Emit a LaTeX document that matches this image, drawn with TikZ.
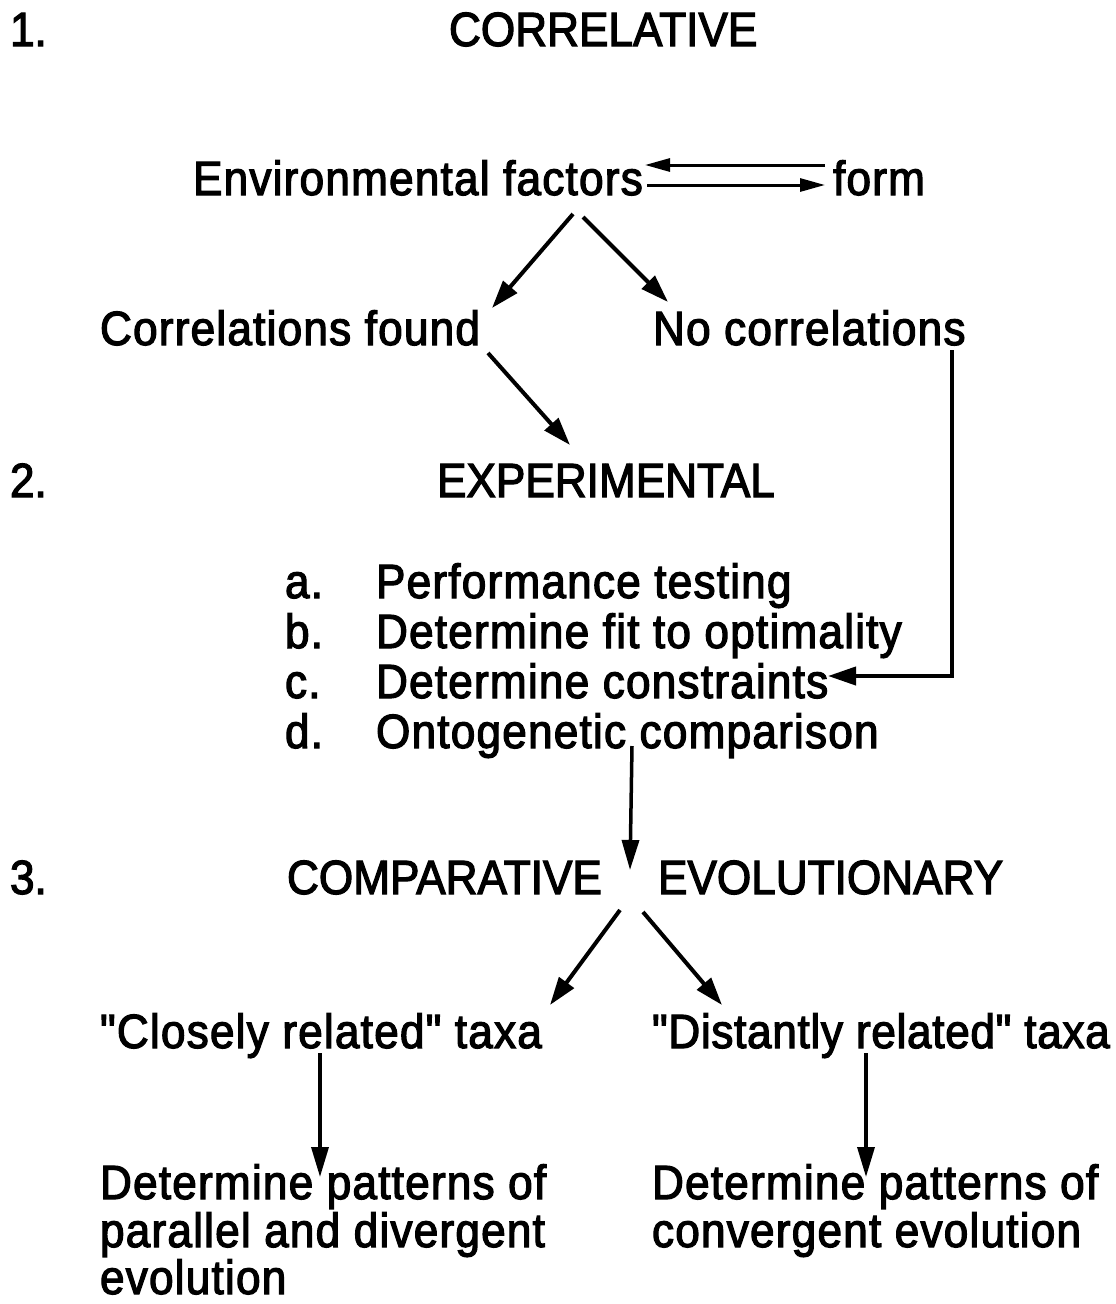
\documentclass[tikz,border=0pt]{standalone}
\usepackage{fontspec}
\setmainfont{Liberation Sans}
\newfontfamily\lcfont{Liberation Sans}[FakeBold=2.5,FakeStretch=0.92,LetterSpace=2.5]
\newfontfamily\lctight{Liberation Sans}[FakeBold=2.5,FakeStretch=0.92,LetterSpace=1.4]
\newfontfamily\ucfont{Liberation Sans}[FakeBold=2.5,FakeStretch=0.92]
\newcommand\dq{\symbol{34}}
\usetikzlibrary{arrows.meta}
\tikzset{
  txt/.style={inner sep=0pt, outer sep=0pt, anchor=base west, font=\lcfont\fontsize{48}{52}\selectfont},
  txttight/.style={txt, font=\lctight\fontsize{48}{52}\selectfont},
  caps/.style={inner sep=0pt, outer sep=0pt, anchor=base west, font=\ucfont\fontsize{48}{52}\selectfont},
  arr/.style={line width=4pt, -{Triangle[length=28pt,width=18pt]}},
  darr/.style={line width=3pt, -{Triangle[length=25pt,width=13pt]}},
  varr/.style={line width=3.5pt, -{Triangle[length=30pt,width=17pt]}}
}
\begin{document}
\begin{tikzpicture}[x=1pt,y=-1pt]
\useasboundingbox (0,0) rectangle (1116,1304);
% level 1
\node[caps] (n1) at (10,46) {1.};
\node[caps] (corrh) at (449,46) {CORRELATIVE};
\node[txt] (env) at (193,195) {Environmental factors};
\node[txt] (form) at (833,195) {form};
\node[txt] (corr) at (100,345) {Correlations found};
\node[txt] (nocorr) at (653,345) {No correlations};
% level 2
\node[caps] (n2) at (10,497) {2.};
\node[caps] (exp) at (437,497) {EXPERIMENTAL};
\node[txt] (la) at (285,598) {a.};
\node[txt] (ta) at (376,598) {Performance testing};
\node[txt] (lb) at (285,648) {b.};
\node[txt] (tb) at (376,648) {Determine fit to optimality};
\node[txt] (lcl) at (285,698) {c.};
\node[txt] (tc) at (376,698) {Determine constraints};
\node[txt] (ldl) at (285,748) {d.};
\node[txt] (td) at (376,748) {Ontogenetic comparison};
% level 3
\node[caps] (n3) at (10,894) {3.};
\node[caps] (comp) at (287,894) {COMPARATIVE};
\node[caps] (evol) at (658,894) {EVOLUTIONARY};
\node[txt] (close) at (100,1048) {\dq Closely related\dq{} taxa};
\node[txttight] (dist) at (652,1048) {\dq Distantly related\dq{} taxa};
\node[txt] (dl1) at (100,1199) {Determine patterns of};
\node[txt] (dl2) at (100,1247) {parallel and divergent};
\node[txt] (dl3) at (100,1294) {evolution};
\node[txt] (dr1) at (652,1199) {Determine patterns of};
\node[txt] (dr2) at (652,1247) {convergent evolution};
% connectors
\draw[darr] ([xshift=-8pt,yshift=30pt]form.base west) -- ([xshift=452pt,yshift=30pt]env.base west);
\draw[darr] ([xshift=454pt,yshift=10pt]env.base west) -- ([xshift=-8pt,yshift=10pt]form.base west);
\draw[arr] ([xshift=380pt,yshift=-19pt]env.base west) -- ([xshift=392pt,yshift=37pt]corr.base west);
\draw[arr] ([xshift=390pt,yshift=-22pt]env.base west) -- ([xshift=15pt,yshift=43pt]nocorr.base west);
\draw[arr] ([xshift=388pt,yshift=-8pt]corr.base west) -- ([xshift=133pt,yshift=52pt]exp.base west);
\draw[arr] ([xshift=299pt,yshift=-5pt]nocorr.base west) |- ([xshift=452pt,yshift=22pt]tc.base west);
\draw[varr] ([xshift=256pt,yshift=2pt]td.base west) -- ([xshift=-28pt,yshift=24pt]evol.base west);
\draw[arr] ([xshift=-38pt,yshift=-16pt]evol.base west) -- ([xshift=450pt,yshift=43pt]close.base west);
\draw[arr] ([xshift=-15pt,yshift=-18pt]evol.base west) -- ([xshift=70pt,yshift=43pt]dist.base west);
\draw[varr] ([xshift=220pt,yshift=-5pt]close.base west) -- ([xshift=220pt,yshift=22pt]dl1.base west);
\draw[varr] ([xshift=214pt,yshift=-5pt]dist.base west) -- ([xshift=214pt,yshift=22pt]dr1.base west);
\end{tikzpicture}
\end{document}
